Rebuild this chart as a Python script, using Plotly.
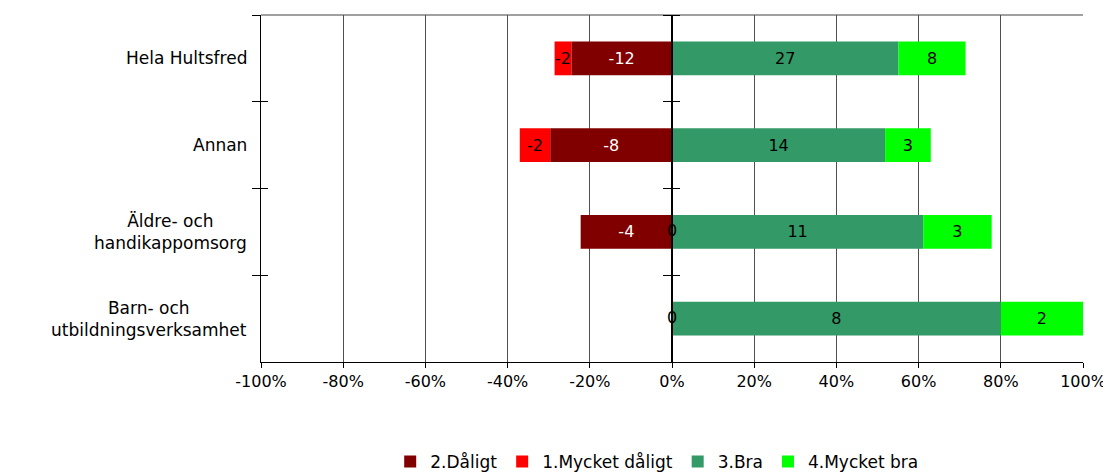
import plotly.graph_objects as go

categories = ["Hela Hultsfred", "Annan", "Äldre- och<br>handikappomsorg", "Barn- och<br>utbildningsverksamhet"]
daligt = [12, 8, 4, 0]          # 2.Dåligt (counts)
mycket_daligt = [2, 2, 0, 0]    # 1.Mycket dåligt (counts)
bra = [27, 14, 11, 8]           # 3.Bra (counts)
mycket_bra = [8, 3, 3, 2]       # 4.Mycket bra (counts)
x_ticks = [-1, -0.8, -0.6, -0.4, -0.2, 0, 0.2, 0.4, 0.6, 0.8, 1]
x_tick_labels = ["-100%", "-80%", "-60%", "-40%", "-20%", "0%", "20%", "40%", "60%", "80%", "100%"]

FONT = "DejaVu Sans"
FS = 17
totals = [a + b + c + d for a, b, c, d in zip(daligt, mycket_daligt, bra, mycket_bra)]

def share(vals, sign=1):
    return [sign * v / t for v, t in zip(vals, totals)]

def labels(vals, sign=1):
    return [("" if v == 0 else str(sign * v)) for v in vals]

series = [
    ("2.Dåligt", daligt, -1, "#800000", "white"),
    ("1.Mycket dåligt", mycket_daligt, -1, "#FF0000", "black"),
    ("3.Bra", bra, 1, "#339966", "black"),
    ("4.Mycket bra", mycket_bra, 1, "#00FF00", "black"),
]

fig = go.Figure()
for name, vals, sign, color, tcolor in series:
    fig.add_trace(go.Bar(
        name=name, y=categories, x=share(vals, sign), orientation="h",
        marker=dict(color=color, line=dict(width=0)),
        text=labels(vals, sign), textposition="inside", insidetextanchor="middle",
        constraintext="none", textangle=0,
        textfont=dict(family=FONT, size=FS - 1, color=tcolor),
        hoverinfo="skip",
    ))

# zero-valued "1.Mycket dåligt" labels shown at the axis
zero_rows = [c for c, v in zip(categories, mycket_daligt) if v == 0]
fig.add_trace(go.Scatter(
    y=zero_rows, x=[0] * len(zero_rows), mode="text", text=["0"] * len(zero_rows),
    textfont=dict(family=FONT, size=FS - 1, color="black"), showlegend=False, hoverinfo="skip",
))

# helper (empty) traces to register overlay axes
for ax in ["y2", "y3", "y4"]:
    fig.add_trace(go.Scatter(x=[], y=[], yaxis=ax, showlegend=False, hoverinfo="skip"))

yr = [3.5, -0.5]
bounds = [-0.5, 0.5, 1.5, 2.5, 3.5]

# page body adds an 8px offset; figure size/margins compensate for it
fig.update_layout(
    width=1103, height=467,
    margin=dict(l=253, r=28, t=7, b=113, autoexpand=False),
    paper_bgcolor="white", plot_bgcolor="white",
    barmode="relative", bargap=0.61,
    font=dict(family=FONT, size=FS, color="black"),
    showlegend=True,
    legend=dict(orientation="h", x=0.482, xanchor="center", y=-0.288, yanchor="middle",
                font=dict(family=FONT, size=FS), itemwidth=30, tracegroupgap=0,
                traceorder="normal"),
    xaxis=dict(range=[-1, 1], tickvals=x_ticks, ticktext=x_tick_labels, automargin=False,
               showgrid=True, gridcolor="#505050", gridwidth=1,
               zeroline=False, showline=True, linecolor="black", linewidth=1,
               ticks="outside", ticklen=5, tickcolor="black",
               tickfont=dict(family=FONT, size=FS - 1)),
    yaxis=dict(type="category", range=yr, showticklabels=False, automargin=False,
               showline=True, linecolor="black", linewidth=1,
               ticks="outside", ticklen=8, tickcolor="black", tickson="boundaries",
               showgrid=False, zeroline=False),
    yaxis2=dict(overlaying="y", anchor="x", side="left", range=yr, tickvals=bounds,
                automargin=False,
                showticklabels=False, ticks="inside", ticklen=7, tickcolor="black",
                showline=False, showgrid=False, zeroline=False),
    yaxis3=dict(overlaying="y", anchor="free", position=0.5, side="left", range=yr,
                automargin=False,
                tickvals=bounds, showticklabels=False, ticks="outside", ticklen=8,
                tickcolor="black", showline=True, linecolor="black", linewidth=2,
                showgrid=False, zeroline=False),
    yaxis4=dict(overlaying="y", anchor="free", position=0.5, side="right", range=yr,
                automargin=False,
                tickvals=bounds, showticklabels=False, ticks="outside", ticklen=7,
                tickcolor="black", showline=False, showgrid=False, zeroline=False),
    shapes=[dict(type="line", xref="paper", yref="paper", x0=0, x1=1, y0=1, y1=1,
                 line=dict(color="#808080", width=1.5), layer="below")],
)

for c in categories:
    fig.add_annotation(text=c, xref="paper", yref="y", x=0, y=c, xanchor="right",
                       xshift=-12, yanchor="middle", align="center", showarrow=False,
                       font=dict(family=FONT, size=FS, color="black"))

fig.write_html("out.html")
